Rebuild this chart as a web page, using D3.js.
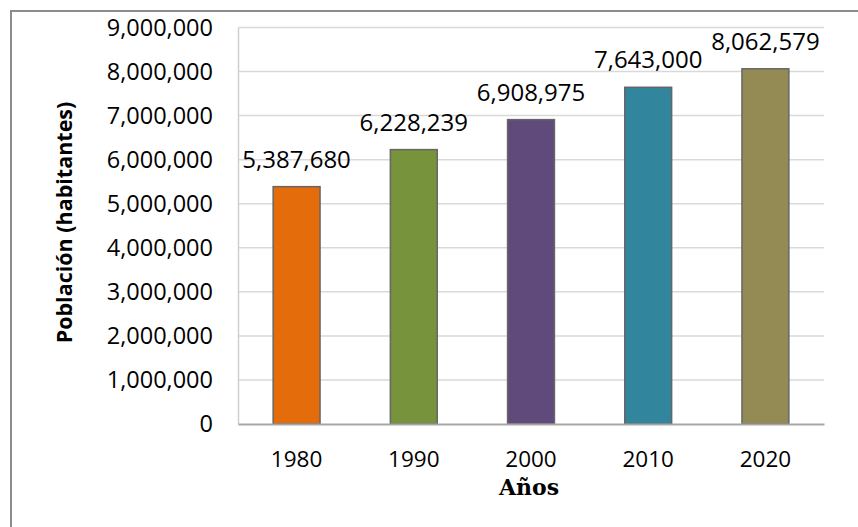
<!DOCTYPE html>
<html><head><meta charset="utf-8">
<script src="https://cdn.jsdelivr.net/npm/d3@7"></script>
<style>body{margin:0;background:#fff}svg{display:block}</style>
</head><body>
<svg id="c" width="858" height="527"></svg>
<script>
const years = ["1980","1990","2000","2010","2020"];
const population = [5387680, 6228239, 6908975, 7643000, 8062579];
const barColors = ["#E46C0A","#77933C","#604A7B","#31859C","#948A54"];
const yTicks = [0,1000000,2000000,3000000,4000000,5000000,6000000,7000000,8000000,9000000];

const svg = d3.select("#c");
const font = "'Open Sans', sans-serif";
const L = 238, R = 824, T = 27.5, B = 424;
const fs = 23.5;

svg.append("rect").attr("x",11).attr("y",11).attr("width",950).attr("height",700)
  .attr("fill","none").attr("stroke","#8c8c8c").attr("stroke-width",2);

const x = d3.scaleBand().domain(years).range([L,R]).paddingInner(0.6).paddingOuter(0.3);
const y = d3.scaleLinear().domain([0,9000000]).range([B,T]);
const fmt = d3.format(",");

// gridlines
svg.append("g").selectAll("line").data(yTicks.slice(1)).join("line")
  .attr("x1",L).attr("x2",R).attr("y1",d=>y(d)).attr("y2",d=>y(d))
  .attr("stroke","#d9d9d9").attr("stroke-width",1.5);

// y axis
const ya = svg.append("g").attr("transform",`translate(${L},0)`)
  .call(d3.axisLeft(y).tickValues(yTicks).tickFormat(fmt).tickSize(0).tickPadding(25));
ya.select(".domain").attr("stroke","#d0d0d0").attr("stroke-width",1.5);
ya.selectAll("text").attr("font-family",font).attr("font-size",fs).attr("fill","#000");

// bars
svg.append("g").selectAll("rect").data(population).join("rect")
  .attr("x",(d,i)=>x(years[i])).attr("width",x.bandwidth())
  .attr("y",d=>y(d)).attr("height",d=>B-y(d))
  .attr("fill",(d,i)=>barColors[i]).attr("stroke","#666").attr("stroke-width",1.5);

// x axis
const xa = svg.append("g").attr("transform",`translate(0,${B})`)
  .call(d3.axisBottom(x).tickSize(0));
xa.select(".domain").attr("stroke","#a6a6a6").attr("stroke-width",2);
xa.selectAll("text").attr("font-family",font).attr("font-size",22.5).attr("fill","#000")
  .attr("y",43).attr("dy",null);

// data labels
svg.append("g").selectAll("text").data(population).join("text")
  .attr("x",(d,i)=>x(years[i])+x.bandwidth()/2).attr("y",d=>y(d)-19)
  .attr("text-anchor","middle").attr("font-family",font).attr("font-size",fs+0.5)
  .attr("fill","#000").text(d=>fmt(d));

// axis titles
svg.append("text").attr("x",(L+R)/2 - 2).attr("y",495).attr("text-anchor","middle")
  .attr("font-family","'DejaVu Serif', serif").attr("font-weight","bold").attr("font-size",22)
  .text("Años");
svg.append("text").attr("transform","translate(72,222.5) rotate(-90)").attr("text-anchor","middle")
  .attr("font-family",font).attr("font-weight","bold").attr("font-size",21.5)
  .text("Población (habitantes)");
</script>
</body></html>
